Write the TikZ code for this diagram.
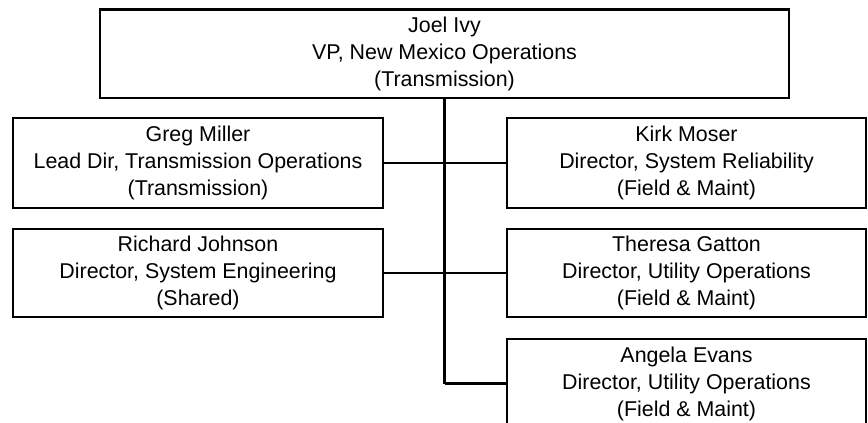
\documentclass[tikz,border=0pt]{standalone}
\usepackage{fontspec}
\setmainfont{Liberation Sans}
\begin{document}
\begin{tikzpicture}[x=1pt,y=-1pt,
  box/.style={draw=black, line width=2.5pt, rectangle, inner sep=0pt, align=center,
    font=\fontsize{21.4}{27}\selectfont},
  conn/.style={draw=black, line width=2.5pt}]
\useasboundingbox (0,0) rectangle (868,423);
\node[box, minimum width=689pt, minimum height=88.5pt] (joel) at (444.5,53.75)
  {Joel Ivy\\VP, New Mexico Operations\\(Transmission)};
\node[box, minimum width=370pt, minimum height=90pt] (greg) at (198,163)
  {Greg Miller\\Lead Dir, Transmission Operations\\(Transmission)};
\node[box, minimum width=359pt, minimum height=90pt] (kirk) at (686.5,163)
  {Kirk Moser\\Director, System Reliability\\(Field \& Maint)};
\node[box, minimum width=370pt, minimum height=88pt] (richard) at (198,273)
  {Richard Johnson\\Director, System Engineering\\(Shared)};
\node[box, minimum width=359pt, minimum height=88pt] (theresa) at (686.5,273)
  {Theresa Gatton\\Director, Utility Operations\\(Field \& Maint)};
\node[box, minimum width=359pt, minimum height=89pt] (angela) at (686.5,383.5)
  {Angela Evans\\Director, Utility Operations\\(Field \& Maint)};
\coordinate (trunkend) at (444.5,383.5);
\draw[conn] (joel.south) -- (trunkend);
\draw[conn] (greg.east) -- (kirk.west);
\draw[conn] (richard.east) -- (theresa.west);
\draw[conn] (trunkend) -- (angela.west);
\end{tikzpicture}
\end{document}
